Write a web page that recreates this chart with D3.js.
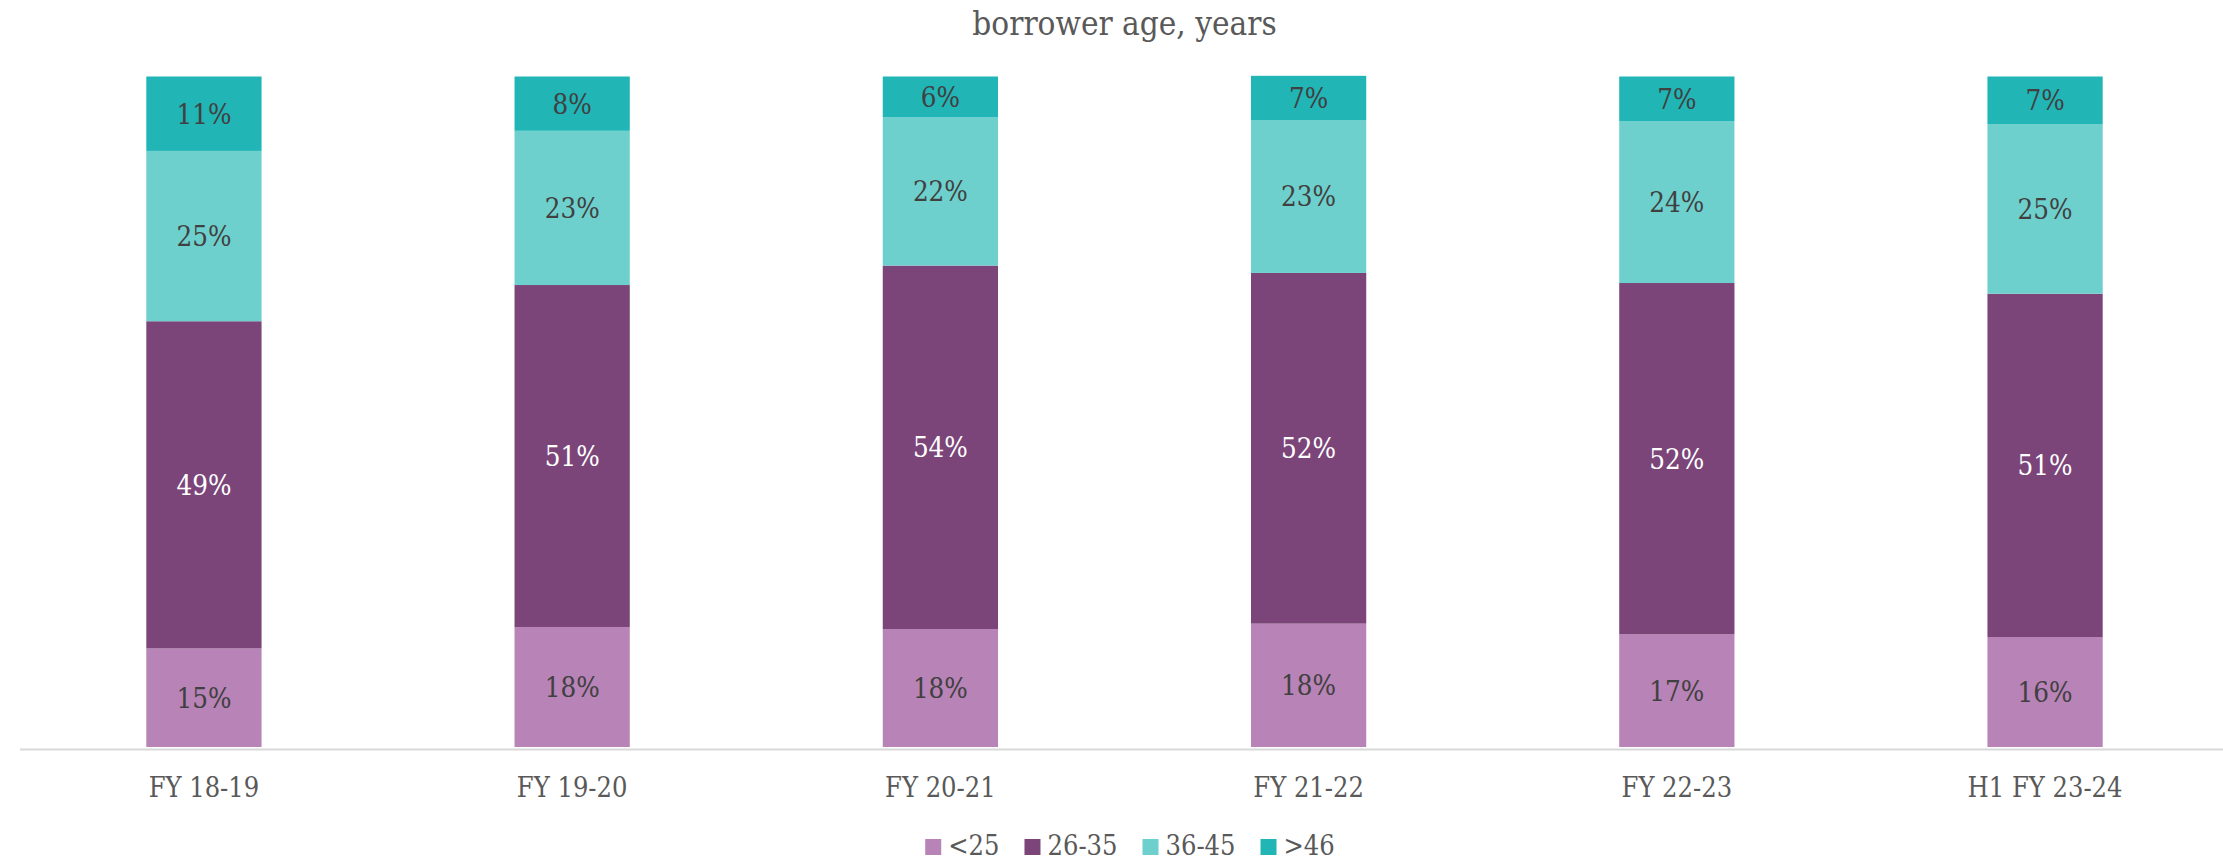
<!DOCTYPE html>
<html>
<head>
<meta charset="utf-8">
<script src="https://cdn.jsdelivr.net/npm/d3@7"></script>
<style>
  html, body { margin: 0; padding: 0; background: #ffffff; }
  #chart { width: 2223px; height: 860px; }
  text { font-family: "DejaVu Serif Condensed", "DejaVu Serif", serif; font-stretch: condensed; }
</style>
</head>
<body>
<div id="chart"></div>
<script>
const periods = ["FY 18-19", "FY 19-20", "FY 20-21", "FY 21-22", "FY 22-23", "H1 FY 23-24"];
const ageGroups = ["<25", "26-35", "36-45", ">46"];

// Share of borrowers per age group, percent
const under25 = [14.7, 17.9, 17.6, 18.4, 16.8, 16.4];
const age26to35 = [48.8, 51.0, 54.2, 52.3, 52.4, 51.2];
const age36to45 = [25.4, 23.0, 22.1, 22.8, 24.1, 25.3];
const over46 = [11.1, 8.1, 6.1, 6.6, 6.7, 7.1];

const groupColors = ["#b883b6", "#7b4579", "#6ed0cd", "#21b5b6"];
const labelColors = ["#404040", "#ffffff", "#404040", "#404040"];

function renderChart() {
  const width = 2223;
  const height = 860;
  const seriesValues = [under25, age26to35, age36to45, over46];

  const rows = periods.map((period, i) => {
    const row = { period };
    ageGroups.forEach((group, g) => { row[group] = seriesValues[g][i]; });
    return row;
  });

  const stacked = d3.stack().keys(ageGroups)(rows);

  const svg = d3.select("#chart")
    .append("svg")
    .attr("width", width)
    .attr("height", height);

  const x = d3.scaleBand()
    .domain(periods)
    .range([20, 2229])
    .paddingInner(0.687)
    .paddingOuter(0.343);

  const y = d3.scaleLinear()
    .domain([0, 100])
    .range([747, 76.5]);

  svg.append("text")
    .attr("x", (x(periods[0]) + x(periods[periods.length - 1]) + x.bandwidth()) / 2)
    .attr("y", 35)
    .attr("text-anchor", "middle")
    .attr("fill", "#595959")
    .attr("font-size", 33)
    .text("borrower age, years");

  const layers = svg.append("g")
    .selectAll("g.layer")
    .data(stacked)
    .enter()
    .append("g")
    .attr("class", "layer");

  layers.selectAll("rect")
    .data((layer) => layer.map((d) => ({ d, g: layer.index })))
    .enter()
    .append("rect")
    .attr("x", (s) => x(s.d.data.period))
    .attr("width", x.bandwidth())
    .attr("y", (s) => y(s.d[1]))
    .attr("height", (s) => y(s.d[0]) - y(s.d[1]))
    .attr("fill", (s) => groupColors[s.g]);

  layers.selectAll("text")
    .data((layer) => layer.map((d) => ({ d, g: layer.index })))
    .enter()
    .append("text")
    .attr("x", (s) => x(s.d.data.period) + x.bandwidth() / 2)
    .attr("y", (s) => (y(s.d[0]) + y(s.d[1])) / 2)
    .attr("dy", "0.36em")
    .attr("text-anchor", "middle")
    .attr("font-size", 27.5)
    .attr("fill", (s) => labelColors[s.g])
    .text((s) => `${Math.round(s.d[1] - s.d[0])}%`);

  svg.append("line")
    .attr("x1", 20)
    .attr("x2", width)
    .attr("y1", 749.5)
    .attr("y2", 749.5)
    .attr("stroke", "#d9d9d9")
    .attr("stroke-width", 2);

  svg.append("g")
    .selectAll("text")
    .data(periods)
    .enter()
    .append("text")
    .attr("x", (p) => x(p) + x.bandwidth() / 2)
    .attr("y", 797)
    .attr("text-anchor", "middle")
    .attr("font-size", 27)
    .attr("fill", "#595959")
    .text((p) => p);

  // Legend, laid out from measured text widths and centred under the plot
  const legend = svg.append("g");
  const items = legend.selectAll("g")
    .data(ageGroups)
    .enter()
    .append("g");

  items.append("rect")
    .attr("width", 16)
    .attr("height", 16)
    .attr("y", 839)
    .attr("fill", (d, i) => groupColors[i]);

  items.append("text")
    .attr("x", 23)
    .attr("y", 855)
    .attr("font-size", 27)
    .attr("fill", "#595959")
    .text((d) => d);

  let offset = 0;
  items.each(function () {
    const item = d3.select(this);
    item.attr("transform", `translate(${offset},0)`);
    offset += 23 + item.select("text").node().getComputedTextLength() + 25;
  });
  const legendWidth = offset - 25;
  legend.attr("transform", `translate(${1130 - legendWidth / 2},0)`);
}

renderChart();
</script>
</body>
</html>
